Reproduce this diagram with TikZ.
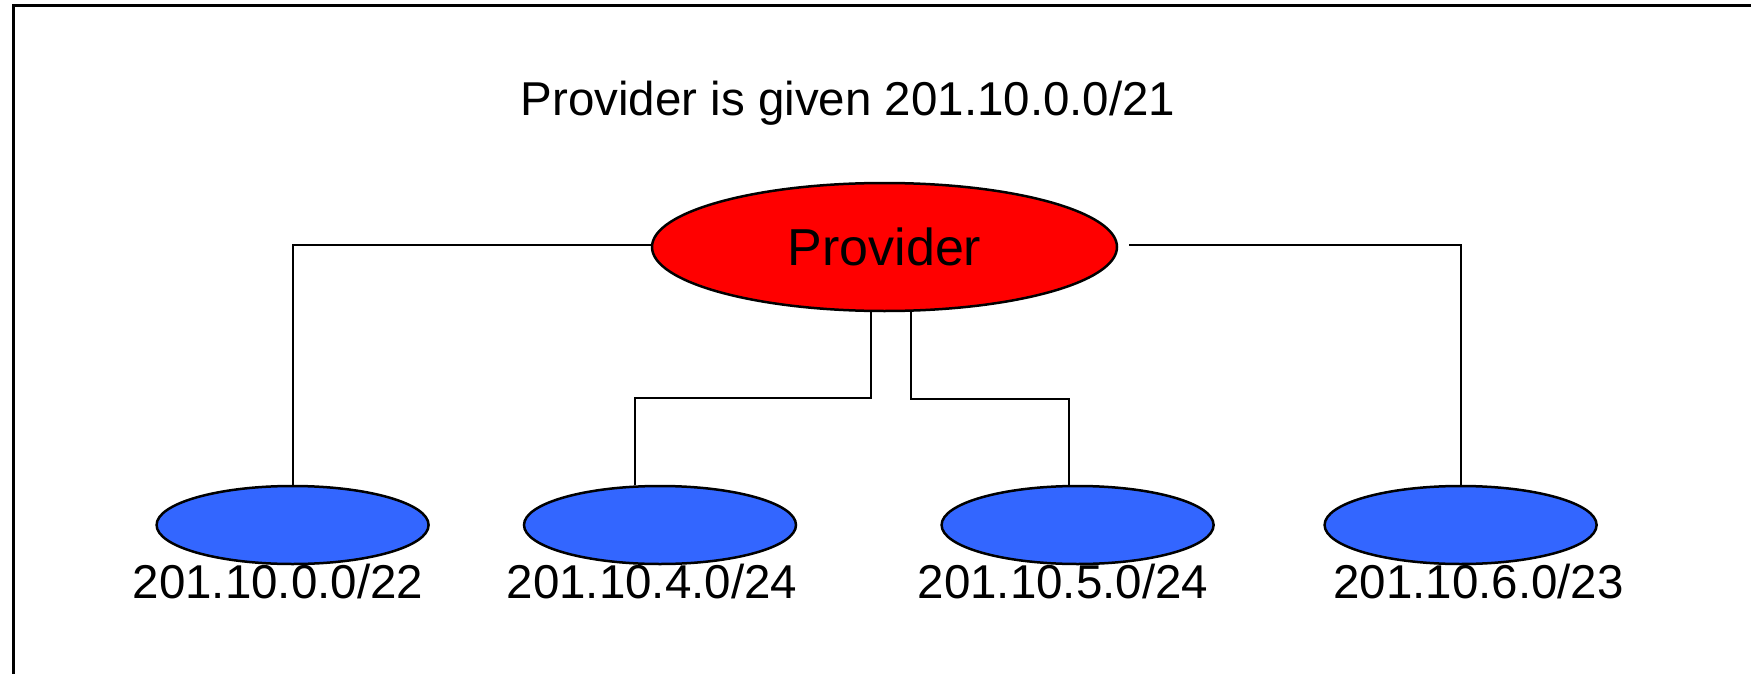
\documentclass[tikz,border=0pt]{standalone}
\usepackage{fontspec}
\setmainfont{Liberation Sans}
\usetikzlibrary{shapes.geometric}
\definecolor{provred}{RGB}{255,0,0}
\definecolor{netblue}{RGB}{51,102,255}
\tikzset{
  wire/.style={line width=2pt, black},
  frameline/.style={line width=3pt, black},
  provnode/.style={ellipse, draw=black, line width=2.5pt, fill=provred,
    minimum width=465pt, minimum height=128pt, inner sep=0pt,
    font=\fontsize{52}{60}\selectfont},
  netnode/.style={ellipse, draw=black, line width=2.5pt, fill=netblue,
    minimum width=272pt, minimum height=78pt, inner sep=0pt},
  netlabel/.style={anchor=base, inner sep=0pt, font=\fontsize{47.5}{56}\selectfont},
}
\begin{document}
\begin{tikzpicture}[x=1pt, y=-1pt]
  \useasboundingbox (0,0) rectangle (1751,674);
  % frame edges along top and left
  \draw[frameline] (13,680) -- (13,6) -- (1760,6);

  \node[netlabel] (title) at (848,116) {Provider is given 201.10.0.0/21};

  \node[provnode] (prov) at (884.5,247) {\raisebox{-3pt}{Provider}};

  \node[netnode] (n1) at (292.6,525) {};
  \node[netnode] (n2) at (660,525) {};
  \node[netnode] (n3) at (1077.6,525) {};
  \node[netnode] (n4) at (1460.6,525) {};

  \node[netlabel] (l1) at (278,598) {201.10.0.0/22};
  \node[netlabel] (l2) at (652,598) {201.10.4.0/24};
  \node[netlabel] (l3) at (1063,598) {201.10.5.0/24};
  \node[netlabel] (l4) at (1478.5,598) {201.10.6.0/23};

  % bend points of the two middle branches
  \coordinate (b2) at (635.4,397.5);
  \coordinate (b3) at (1068.7,398.7);

  \draw[wire] ([yshift=2pt]prov.west) -| (n1.north);
  \draw[wire] ([xshift=11pt,yshift=2pt]prov.east) -| (n4.north);
  \draw[wire] ([xshift=-13.5pt]prov.south) |- (b2) -- (b2 |- n2.north);
  \draw[wire] ([xshift=26.5pt]prov.south) |- (b3) -- (b3 |- n3.north);
\end{tikzpicture}
\end{document}
